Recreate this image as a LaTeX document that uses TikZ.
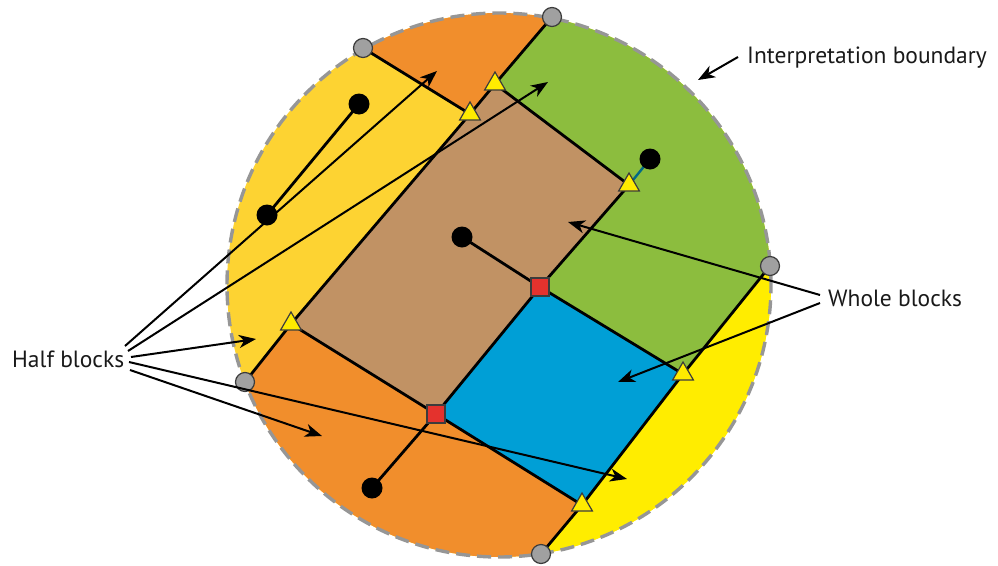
\documentclass[tikz,border=0pt]{standalone}
\usepackage{fontspec}
\setmainfont{PT Sans}
\usetikzlibrary{calc,arrows.meta,shapes.geometric}
\definecolor{yellowL}{RGB}{253,211,50}
\definecolor{yellowR}{RGB}{255,237,0}
\definecolor{orangeC}{RGB}{241,142,44}
\definecolor{greenC}{RGB}{140,189,62}
\definecolor{brownC}{RGB}{193,146,100}
\definecolor{blueC}{RGB}{0,159,214}
\definecolor{triY}{RGB}{255,235,0}
\definecolor{redSq}{RGB}{228,50,45}
\definecolor{greyFill}{RGB}{160,160,160}
\definecolor{darkLine}{RGB}{60,60,60}
\definecolor{boundGrey}{RGB}{150,150,150}
\definecolor{tealLine}{RGB}{0,105,135}
\pgfdeclarelayer{bg}
\pgfdeclarelayer{lines}
\pgfsetlayers{bg,lines,main}
\begin{document}
\begin{tikzpicture}[x=1pt,y=-1pt,
  gridline/.style={line width=2.8pt, line join=round},
  callout/.style={line width=2pt, -{Stealth[length=17pt,width=13pt,inset=5pt]}},
  bdot/.style={circle, fill=black, minimum size=21pt, inner sep=0pt},
  gdot/.style={circle, fill=greyFill, draw=darkLine, line width=1.2pt, minimum size=19pt, inner sep=0pt},
  tri/.style={regular polygon, regular polygon sides=3, fill=triY, draw=darkLine, line width=1.2pt, minimum size=24pt, inner sep=0pt},
  sq/.style={rectangle, fill=redSq, draw=darkLine, line width=1.2pt, minimum size=18pt, inner sep=0pt},
  lbl/.style={font=\fontsize{23.5}{27}\selectfont, inner sep=0pt, anchor=base west, text=black!90}
]
\useasboundingbox (0,0) rectangle (998,565);
% geometry
\coordinate (O) at (499,285);
\coordinate (pg1) at (363,48);
\coordinate (pg2) at (552,17);
\coordinate (pg3) at (770,266);
\coordinate (pg4) at (541,554);
\coordinate (pg5) at (245,382);
\coordinate (pt1) at (470,114);
\coordinate (pt2) at (495,84);
\coordinate (pt3) at (629,185);
\coordinate (pt4) at (683,374);
\coordinate (pt5) at (582,505);
\coordinate (pt6) at (291,324);
\coordinate (pr1) at (540,287);
\coordinate (pr2) at (436,414);
\coordinate (g1x) at ($(pt1)!1.8!(pg1)$);
\coordinate (g2x) at ($(pt2)!2!(pg2)$);
\coordinate (g3x) at ($(pt4)!1.8!(pg3)$);
\coordinate (g4x) at ($(pt5)!2.2!(pg4)$);
\coordinate (g5x) at ($(pt6)!2.2!(pg5)$);
% fills
\begin{pgfonlayer}{bg}
\begin{scope}
\clip (O) circle[radius=272pt];
\fill[yellowL] (O) circle[radius=280pt];
\fill[orangeC] (g1x) -- (pt1) -- (pt2) -- (g2x) -- (g2x |- 0,-150) -- (g1x |- 0,-150) -- cycle;
\fill[greenC] (pt2) -- (g2x) -- (1000,-150) -- (1000,180) -- (g3x) -- (pt4) -- (pr1) -- (pt3) -- cycle;
\fill[yellowR] (g3x) -- (1000,180) -- (1000,700) -- (g4x) -- (pt5) -- (pt4) -- cycle;
\fill[orangeC] (g5x) -- (pt6) -- (pr2) -- (pt5) -- (g4x) -- (0,700) -- cycle;
\fill[brownC] (pt6) -- (pt1) -- (pt2) -- (pt3) -- (pr1) -- (pr2) -- cycle;
\fill[blueC] (pr1) -- (pt4) -- (pt5) -- (pr2) -- cycle;
\end{scope}
\draw[boundGrey, line width=3.4pt, dash pattern=on 14pt off 7pt] (O) circle[radius=272pt];
\end{pgfonlayer}
% markers
\node[gdot] (g1) at (pg1) {};
\node[gdot] (g2) at (pg2) {};
\node[gdot] (g3) at (pg3) {};
\node[gdot] (g4) at (pg4) {};
\node[gdot] (g5) at (pg5) {};
\node[tri] (t1) at (pt1) {};
\node[tri] (t2) at (pt2) {};
\node[tri] (t3) at (pt3) {};
\node[tri] (t4) at (pt4) {};
\node[tri] (t5) at (pt5) {};
\node[tri] (t6) at (pt6) {};
\node[sq] (r1) at (pr1) {};
\node[sq] (r2) at (pr2) {};
\node[bdot] (d1) at (359,104) {};
\node[bdot] (d2) at (267,215) {};
\node[bdot] (d3) at (462,237) {};
\node[bdot] (d4) at (650,159) {};
\node[bdot] (d5) at (372,488) {};
% grid lines
\begin{pgfonlayer}{lines}
\draw[gridline] (g5.center) -- (pt6) -- (pt1) -- (pt2) -- (g2.center);
\draw[gridline] (g1.center) -- (pt1);
\draw[gridline] (pt2) -- (pt3);
\draw[gridline] (d5.center) -- (pr2) -- (pr1) -- (pt3);
\draw[tealLine, line width=2.4pt] (pt3) -- (d4.center);
\draw[gridline] (pt6) -- (pr2) -- (pt5);
\draw[gridline] (pr1) -- (pt4);
\draw[gridline] (g4.center) -- (pt5) -- (pt4) -- (g3.center);
\draw[gridline] (d3.center) -- (pr1);
\draw[gridline] (d1.center) -- (d2.center);
\end{pgfonlayer}
% labels
\node[lbl] (IB) at (747,63) {Interpretation boundary};
\node[lbl] (HB) at (12,367) {Half blocks};
\node[lbl] (WB) at (828,306) {Whole blocks};
% callouts
\coordinate (ibs) at (738,57);  \coordinate (ibe) at (698,80);
\coordinate (hs1) at (125,346); \coordinate (he1) at (437,71);
\coordinate (hs2) at (128,351); \coordinate (he2) at (548,82);
\coordinate (hs3) at (131,357); \coordinate (he3) at (256,339);
\coordinate (hs4) at (129,362); \coordinate (he4) at (627,479);
\coordinate (hs5) at (130,370); \coordinate (he5) at (322,436);
\coordinate (ws1) at (820,295); \coordinate (we1) at (568,222);
\coordinate (ws2) at (820,303); \coordinate (we2) at (618,382);
\draw[callout] (ibs) -- (ibe);
\draw[callout] (hs1) -- (he1);
\draw[callout] (hs2) -- (he2);
\draw[callout] (hs3) -- (he3);
\draw[callout] (hs4) -- (he4);
\draw[callout] (hs5) -- (he5);
\draw[callout] (ws1) -- (we1);
\draw[callout] (ws2) -- (we2);
\end{tikzpicture}
\end{document}
